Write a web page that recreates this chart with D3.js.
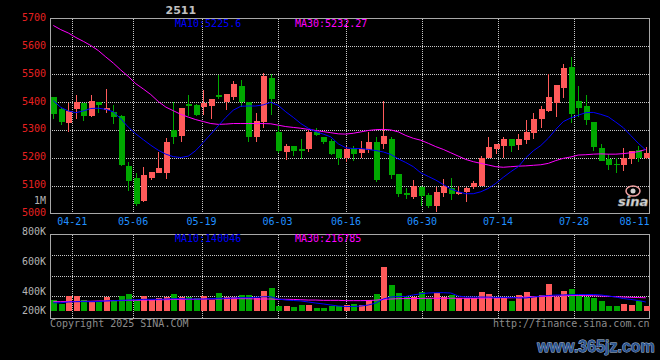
<!DOCTYPE html>
<html><head><meta charset="utf-8">
<script src="https://cdn.jsdelivr.net/npm/d3@7"></script>
<style>html,body{margin:0;padding:0;background:#000;}svg{display:block;}</style>
</head><body>
<script>
// ---------- data ----------
const dates = ["04-16","04-17","04-18","04-21","04-22","04-23","04-24","04-25","04-28","04-29","04-30",
"05-06","05-07","05-08","05-09","05-12","05-13","05-14","05-15","05-16","05-19","05-20","05-21","05-22","05-23","05-26","05-27","05-28","05-29","05-30",
"06-03","06-04","06-05","06-06","06-09","06-10","06-11","06-12","06-13","06-16","06-17","06-18","06-19","06-20","06-23","06-24","06-25","06-26","06-27","06-30",
"07-01","07-02","07-03","07-04","07-07","07-08","07-09","07-10","07-11","07-14","07-15","07-16","07-17","07-18","07-21","07-22","07-23","07-24","07-25","07-28","07-29","07-30","07-31",
"08-01","08-04","08-05","08-06","08-07","08-08","08-11"];
const open  = [5419,5375,5326,5376,5398,5349,5401,5372,5366,5350,5170,5128,5045,5128,5146,5146,5299,5278,5394,5390,
               5381,5385,5427,5400,5420,5456,5400,5273,5327,5487,5294,5220,5244,5230,5230,5294,5276,5262,5233,5200,
               5236,5216,5229,5258,5248,5266,5141,5073,5058,5094,5066,5026,5073,5091,5069,5076,5094,5098,5201,5230,
               5243,5267,5247,5263,5288,5338,5367,5395,5452,5525,5404,5385,5327,5235,5195,5178,5174,5194,5227,5199];
const high  = [5420,5378,5396,5426,5398,5424,5401,5446,5389,5354,5185,5144,5167,5149,5221,5271,5400,5380,5425,5392,
               5444,5412,5498,5430,5476,5480,5400,5361,5504,5500,5316,5251,5244,5266,5301,5308,5276,5266,5233,5244,
               5244,5262,5291,5276,5405,5276,5141,5091,5119,5098,5073,5094,5123,5126,5099,5094,5116,5208,5273,5251,
               5273,5267,5285,5335,5362,5386,5502,5460,5535,5561,5456,5424,5327,5249,5213,5201,5234,5223,5242,5237];
const low   = [5339,5319,5292,5339,5331,5345,5361,5360,5323,5172,5082,5028,5041,5120,5146,5124,5249,5257,5351,5350,
               5355,5341,5412,5373,5408,5382,5256,5258,5306,5355,5218,5192,5206,5197,5220,5277,5251,5210,5174,5185,
               5188,5199,5218,5113,5230,5123,5058,5051,5051,5026,5019,5005,5058,5048,5066,5041,5087,5098,5198,5212,
               5201,5219,5228,5249,5267,5306,5363,5345,5413,5324,5348,5317,5226,5189,5156,5147,5151,5176,5184,5194];
const close = [5356,5329,5367,5400,5349,5405,5388,5380,5345,5174,5118,5035,5138,5149,5163,5256,5275,5379,5387,5354,
               5396,5412,5420,5430,5465,5402,5274,5331,5494,5412,5224,5241,5226,5223,5294,5283,5258,5212,5198,5231,
               5212,5230,5258,5119,5280,5137,5069,5066,5098,5062,5026,5076,5098,5069,5076,5091,5108,5201,5237,5248,
               5267,5243,5267,5294,5338,5374,5417,5460,5524,5358,5380,5335,5237,5189,5174,5173,5198,5223,5198,5216];
const volume = [363,339,390,390,363,352,352,383,363,390,403,363,390,363,375,383,403,383,383,375,
                390,363,410,383,383,397,397,375,423,443,323,323,317,330,330,310,310,323,323,330,
                337,330,363,403,583,463,410,383,383,417,379,410,383,397,379,375,375,417,403,375,
                375,359,397,417,390,397,470,383,423,437,397,383,377,357,323,323,337,330,359,323].map(v => v * 1000);
const ma10 = [5405,5381,5368,5362,5368,5377,5378,5374,5365,5340,5310,5286,5265,5245,5227,5213,5204,5201,5206,5226,
              5255,5285,5315,5345,5371,5385,5386,5386,5390,5399,5388,5365,5345,5323,5306,5294,5285,5275,5250,5236,
              5233,5233,5230,5226,5221,5212,5196,5183,5168,5146,5133,5120,5104,5088,5078,5071,5071,5078,5090,5108,
              5130,5150,5168,5200,5225,5244,5270,5302,5330,5343,5353,5362,5363,5356,5347,5328,5308,5280,5252,5228];
const ma30 = [5675,5660,5648,5632,5618,5603,5585,5562,5540,5515,5492,5466,5447,5427,5402,5382,5369,5356,5346,5337,
              5330,5323,5320,5321,5323,5323,5323,5323,5323,5322,5317,5312,5309,5306,5302,5298,5294,5290,5286,5285,
              5288,5293,5298,5301,5302,5300,5293,5280,5270,5263,5252,5240,5230,5218,5206,5194,5186,5180,5174,5168,
              5166,5168,5170,5171,5173,5175,5180,5190,5198,5203,5210,5211,5213,5214,5213,5213,5215,5218,5222,5230];
const volMa10 = [345,345,350,352,353,352,353,357,359,361,363,365,368,368,368,370,372,372,370,370,
                 370,372,375,375,377,379,379,381,385,385,370,363,360,357,350,343,337,330,323,320,
                 320,323,330,343,370,383,387,387,397,405,410,412,412,410,390,383,383,383,383,381,
                 381,381,377,377,383,390,393,397,397,399,400,400,400,397,390,383,373,367,360,350].map(v => v * 1000);
const volMa30 = [352,352,353,353,355,355,357,357,359,359,361,361,363,363,365,365,367,367,368,368,
                 370,370,370,372,372,372,372,370,370,370,368,368,367,365,363,363,361,361,361,359,
                 359,359,360,362,368,370,372,373,373,374,375,375,375,375,375,375,375,376,377,377,
                 378,378,380,383,385,386,388,390,392,393,393,393,392,390,388,385,383,381,380,378].map(v => v * 1000);
const priceTicks = [5700,5600,5500,5400,5300,5200,5100,5000];
const dateTicks = ["04-21","05-06","05-19","06-03","06-16","06-30","07-14","07-28","08-11"];
const volTicks = [800000,600000,400000,200000];
const volTickLabels = ["800K","600K","400K","200K"];
const title = "2511";
const maLegend = ["MA10:5225.6","MA30:5232.27"];
const volLegend = ["MA10:140046","MA30:216785"];

// ---------- layout ----------
const W = 660, H = 360;
const L = 50, R = 649.5;
const mainTop = 18.5, mainBot = 213.5;
const volTop = 234.5, volBot = 318.5, volBase = 310.7;
const RED = "#ff5a5a", GREEN = "#00a800", BLUE = "#0000ff", MAG = "#ff00ff";
const GRID = "#c8c8c8", BORDER = "#a8a8a8", GRAY = "#b4b4b4";
const MONO = "'DejaVu Sans Mono', 'Liberation Mono', monospace";

const svg = d3.select("body").append("svg").attr("width", W).attr("height", H)
  .style("background", "#000");
svg.append("rect").attr("width", W).attr("height", H).attr("fill", "#000");

const idx = d3.range(dates.length);
const xc = d3.scaleLinear().domain([0, dates.length - 1]).range([53.3, 645.8]);
const xg = d3.scaleLinear().domain([0, dates.length - 1]).range([49.5, 650]);
const y = d3.scaleLinear().domain([5000, 5700]).range([mainBot, mainTop]);
const vy = d3.scaleLinear().domain([0, 800000]).range([354.5, volTop]);

// ---------- grids ----------
const gridG = svg.append("g").attr("stroke", GRID).attr("stroke-dasharray", "1,1")
  .attr("shape-rendering", "crispEdges");
priceTicks.filter(p => p > 5000 && p < 5700).forEach(p => {
  const yy = Math.round(y(p)) + 0.5;
  gridG.append("line").attr("x1", L).attr("x2", R).attr("y1", yy).attr("y2", yy);
});
const tickIdx = dateTicks.map(t => dates.indexOf(t));
tickIdx.filter(i => xg(i) < R - 2).forEach(i => {
  const xx = Math.round(xg(i)) + 0.5;
  gridG.append("line").attr("x1", xx).attr("x2", xx).attr("y1", mainTop).attr("y2", mainBot);
  gridG.append("line").attr("x1", xx).attr("x2", xx).attr("y1", volTop).attr("y2", volBot);
});
[1, 2, 3].forEach(k => {
  const yy = Math.round(volTop + 20.6 * k) + 0.5;
  gridG.append("line").attr("x1", L).attr("x2", R).attr("y1", yy).attr("y2", yy);
});

// ---------- borders ----------
[[mainTop, mainBot], [volTop, volBot]].forEach(([t, b]) => {
  svg.append("rect").attr("x", L).attr("y", t).attr("width", R - L).attr("height", b - t)
    .attr("fill", "none").attr("stroke", BORDER).attr("shape-rendering", "crispEdges");
});

// ---------- candles ----------
const cg = svg.append("g").attr("shape-rendering", "crispEdges");
idx.forEach(i => {
  const up = close[i] >= open[i];
  const col = up ? RED : GREEN;
  const cx = Math.round(xc(i));
  cg.append("line").attr("x1", cx + 0.5).attr("x2", cx + 0.5)
    .attr("y1", y(high[i])).attr("y2", y(low[i])).attr("stroke", col);
  const top = y(Math.max(open[i], close[i])), bot = y(Math.min(open[i], close[i]));
  cg.append("rect").attr("x", cx - 2.5).attr("y", top).attr("width", 6)
    .attr("height", Math.max(1, bot - top)).attr("fill", col);
});

// ---------- MA lines (price) ----------
const lineP = d3.line().x((d, i) => xc(i)).y(d => y(d));
svg.append("path").datum(ma30).attr("d", lineP).attr("fill", "none").attr("stroke", MAG).attr("stroke-width", 1);
svg.append("path").datum(ma10).attr("d", lineP).attr("fill", "none").attr("stroke", BLUE).attr("stroke-width", 1);

// ---------- volume bars ----------
const vg = svg.append("g").attr("shape-rendering", "crispEdges");
idx.forEach(i => {
  const up = close[i] >= open[i];
  const cx = Math.round(xc(i));
  const top = vy(volume[i]);
  vg.append("rect").attr("x", cx - 2.5).attr("y", top).attr("width", 6)
    .attr("height", Math.max(1, volBase - top)).attr("fill", up ? RED : GREEN);
});
const lineV = d3.line().x((d, i) => xc(i)).y(d => vy(d));
svg.append("path").datum(volMa30).attr("d", lineV).attr("fill", "none").attr("stroke", MAG);
svg.append("path").datum(volMa10).attr("d", lineV).attr("fill", "none").attr("stroke", BLUE);

// ---------- texts ----------
const txt = (x, yy, s, fill, anchor, size, extra) => {
  const t = svg.append("text").attr("x", x).attr("y", yy).text(s).attr("fill", fill)
    .attr("font-family", MONO).attr("font-size", size || 10).attr("text-anchor", anchor || "start");
  if (extra) extra(t);
  return t;
};
priceTicks.forEach(p => txt(46, y(p) + 2.5, String(p), "#e82020", "end"));
txt(46, 204, "1M", GRAY, "end");
dateTicks.forEach((d, k) => {
  const i = tickIdx[k];
  const xx = xg(i);
  if (xx > R - 16) txt(R, 224.6, d, "#2090ff", "end");
  else txt(xx, 224.6, d, "#2090ff", "middle");
});
volTicks.forEach((v, k) => txt(46, Math.min(vy(v), 314), volTickLabels[k], GRAY, "end"));
txt(175, 27, maLegend[0], BLUE);
txt(295, 27, maLegend[1], MAG);
txt(175, 242, volLegend[0], BLUE);
txt(295, 242, volLegend[1], MAG);
txt(165.5, 13.5, title, "#c0c0c0", "start", 11, t => t.attr("font-weight", "bold").attr("font-family", "'DejaVu Sans', sans-serif"));
txt(50, 327.3, "Copyright 2025 SINA.COM", "#8c8c8c");
txt(649.5, 327.3, "http://finance.sina.com.cn", "#8c8c8c", "end");

// sina logo watermark
svg.append("ellipse").attr("cx", 633).attr("cy", 191).attr("rx", 7).attr("ry", 5)
  .attr("fill", "none").attr("stroke", "#f0a0a0").attr("stroke-width", 1.5);
svg.append("circle").attr("cx", 633).attr("cy", 191).attr("r", 2.5).attr("fill", "#d0d0d0");
svg.append("text").attr("x", 618).attr("y", 206).text("sina")
  .attr("font-family", "'DejaVu Sans', sans-serif").attr("font-size", 13).attr("font-weight", "bold")
  .attr("font-style", "italic").attr("fill", "#d8d8d8").attr("stroke", "#909090").attr("stroke-width", 0.5);

// site watermark
svg.append("text").attr("x", 596).attr("y", 352).text("www.365jz.com")
  .attr("text-anchor", "middle").attr("font-family", "'Liberation Sans', Arial, sans-serif")
  .attr("font-size", 16).attr("font-weight", "bold")
  .attr("fill", "#2c5590").attr("stroke", "#b8cce8").attr("stroke-width", 0.8)
  .attr("paint-order", "stroke");
</script>
</body></html>
